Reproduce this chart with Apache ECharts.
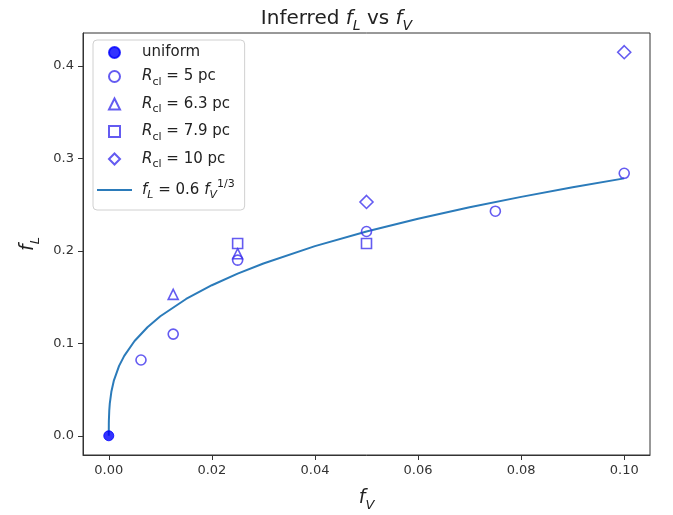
<!DOCTYPE html>
<html>
<head>
<meta charset="utf-8">
<script src="https://cdn.jsdelivr.net/npm/echarts@6/dist/echarts.min.js"></script>
<style>html,body{margin:0;padding:0;background:#fff}#c{width:673px;height:515px}</style>
</head>
<body>
<div id="c"></div>
<script>
// ---- data ----
const uniformV = [0];
const uniformL = [0];
const r5V = [0.00625, 0.0125, 0.025, 0.05, 0.075, 0.1];
const r5L = [0.082, 0.110, 0.190, 0.221, 0.243, 0.284];
const r63V = [0.0125, 0.025];
const r63L = [0.153, 0.197];
const r79V = [0.025, 0.05];
const r79L = [0.208, 0.208];
const r10V = [0.05, 0.1];
const r10L = [0.253, 0.415];
// curve f_L = 0.6 f_V^(1/3)
const curveV = [0, 0.00001, 0.00002, 0.0001, 0.0002, 0.0005, 0.001, 0.002, 0.003, 0.005, 0.0075, 0.01, 0.015, 0.02, 0.025, 0.03, 0.04, 0.05, 0.06, 0.07, 0.08, 0.09, 0.1];
const curveL = [0, 0.0129, 0.0163, 0.0278, 0.0351, 0.0476, 0.060, 0.0756, 0.0865, 0.1026, 0.1174, 0.1293, 0.148, 0.1629, 0.1754, 0.1864, 0.2052, 0.221, 0.2349, 0.2473, 0.2585, 0.2689, 0.2785];
const xTicks = [0, 0.02, 0.04, 0.06, 0.08, 0.10];
const yTicks = [0, 0.1, 0.2, 0.3, 0.4];

const zip = (a, b) => a.map((v, i) => [v, b[i]]);
const FONT = 'DejaVu Sans';
const MK = '#3d32ee';
const TRI = 'path://M10,0L20,20L0,20Z';
const SQ = 'path://M0,0H20V20H0Z';
const DIA = 'path://M10,0L20,10L10,20L0,10Z';
const LINEICON = 'path://M0,0H35V2H0Z';

const legendLabels = {
  'uniform': '{t|uniform}',
  'R5': '{i|R}{r|cl}{t| = 5 pc}',
  'R63': '{i|R}{r|cl}{t| = 6.3 pc}',
  'R79': '{i|R}{r|cl}{t| = 7.9 pc}',
  'R10': '{i|R}{r|cl}{t| = 10 pc}',
  'fit': '{i|f}{s|L}{t| = 0.6 }{i|f}{s|V}{p|1/3}'
};

function richSet(size) {
  const lh = Math.round(size * 1.45);
  const base = {fontFamily: FONT, color: '#222', fontWeight: 'normal'};
  return {
    t: Object.assign({}, base, {fontSize: size, lineHeight: lh, verticalAlign: 'middle'}),
    i: Object.assign({}, base, {fontSize: size, fontStyle: 'italic', lineHeight: lh, verticalAlign: 'middle'}),
    s: Object.assign({}, base, {fontSize: Math.round(size * 0.7), fontStyle: 'italic', lineHeight: Math.round(size * 0.85), verticalAlign: 'bottom'}),
    r: Object.assign({}, base, {fontSize: Math.round(size * 0.7), lineHeight: Math.round(size * 0.85), verticalAlign: 'bottom'}),
    p: Object.assign({}, base, {fontSize: Math.round(size * 0.7), lineHeight: Math.round(size * 0.85), verticalAlign: 'top'})
  };
}

const chart = echarts.init(document.getElementById('c'), null, {renderer: 'canvas'});
chart.setOption({
  animation: false,
  backgroundColor: '#fff',
  title: {
    text: '{t|Inferred }{i|f}{s|L}{t| vs }{i|f}{s|V}',
    left: 'center',
    top: -1,
    textStyle: {fontWeight: 'normal', rich: richSet(20)}
  },
  grid: {left: 83, right: 23, top: 33, bottom: 60, show: true, borderColor: '#333', borderWidth: 1,
    containLabel: false, outerBoundsMode: 'none'},
  legend: {
    orient: 'vertical',
    left: 93,
    top: 40,
    itemWidth: 35,
    itemHeight: 11,
    itemGap: 9,
    padding: [5, 10, 9, 4],
    backgroundColor: '#fff',
    borderColor: '#d0d0d0',
    borderWidth: 1,
    borderRadius: 4,
    symbolKeepAspect: true,
    data: ['uniform', 'R5', 'R63', 'R79', 'R10', {name: 'fit', icon: LINEICON}],
    formatter: n => legendLabels[n],
    textStyle: {padding: [0, 0, 0, 5], rich: richSet(15)}
  },
  xAxis: {
    type: 'value', min: -0.005, max: 0.105,
    name: '{i|f}{s|V}', nameLocation: 'middle', nameGap: 29,
    nameTextStyle: {rich: richSet(19)},
    axisLine: {show: true, onZero: false, lineStyle: {color: '#333', width: 1}},
    axisTick: {show: true, inside: false, length: 5, customValues: xTicks, lineStyle: {color: '#333'}},
    axisLabel: {customValues: xTicks, formatter: v => v.toFixed(2), fontFamily: FONT, fontSize: 13, color: '#333', margin: 9},
    splitLine: {show: false}
  },
  yAxis: {
    type: 'value', min: -0.0208, max: 0.4358,
    name: '{i|f}{s|L}', nameLocation: 'middle', nameGap: 40, nameRotate: 90,
    nameTextStyle: {rich: richSet(19)},
    axisLine: {show: true, onZero: false, lineStyle: {color: '#333', width: 1}},
    axisTick: {show: true, inside: false, length: 5, customValues: yTicks, lineStyle: {color: '#333'}},
    axisLabel: {customValues: yTicks, formatter: v => v.toFixed(1), fontFamily: FONT, fontSize: 13, color: '#333', margin: 9},
    splitLine: {show: false}
  },
  series: [
    {name: 'fit', type: 'line', data: zip(curveV, curveL), symbol: 'none', showSymbol: false,
      lineStyle: {color: '#2b7bba', width: 2}, itemStyle: {color: '#2b7bba'}, z: 1},
    {name: 'uniform', type: 'scatter', data: zip(uniformV, uniformL), symbol: 'circle', symbolSize: 10,
      symbolKeepAspect: true, itemStyle: {color: '#0000ff', borderColor: '#0000ff', borderWidth: 1}, z: 5},
    {name: 'R5', type: 'scatter', data: zip(r5V, r5L), symbol: 'circle', symbolSize: 10,
      symbolKeepAspect: true, itemStyle: {color: 'rgba(255,255,255,0)', borderColor: MK, borderWidth: 1.6}, z: 4},
    {name: 'R63', type: 'scatter', data: zip(r63V, r63L), symbol: TRI, symbolSize: 10,
      symbolKeepAspect: true, itemStyle: {color: 'rgba(255,255,255,0)', borderColor: MK, borderWidth: 1.6}, z: 4},
    {name: 'R79', type: 'scatter', data: zip(r79V, r79L), symbol: SQ, symbolSize: 10,
      symbolKeepAspect: true, itemStyle: {color: 'rgba(255,255,255,0)', borderColor: MK, borderWidth: 1.6}, z: 4},
    {name: 'R10', type: 'scatter', data: zip(r10V, r10L), symbol: DIA, symbolSize: 13,
      symbolKeepAspect: true, itemStyle: {color: 'rgba(255,255,255,0)', borderColor: MK, borderWidth: 1.6}, z: 4}
  ]
});
</script>
</body>
</html>
